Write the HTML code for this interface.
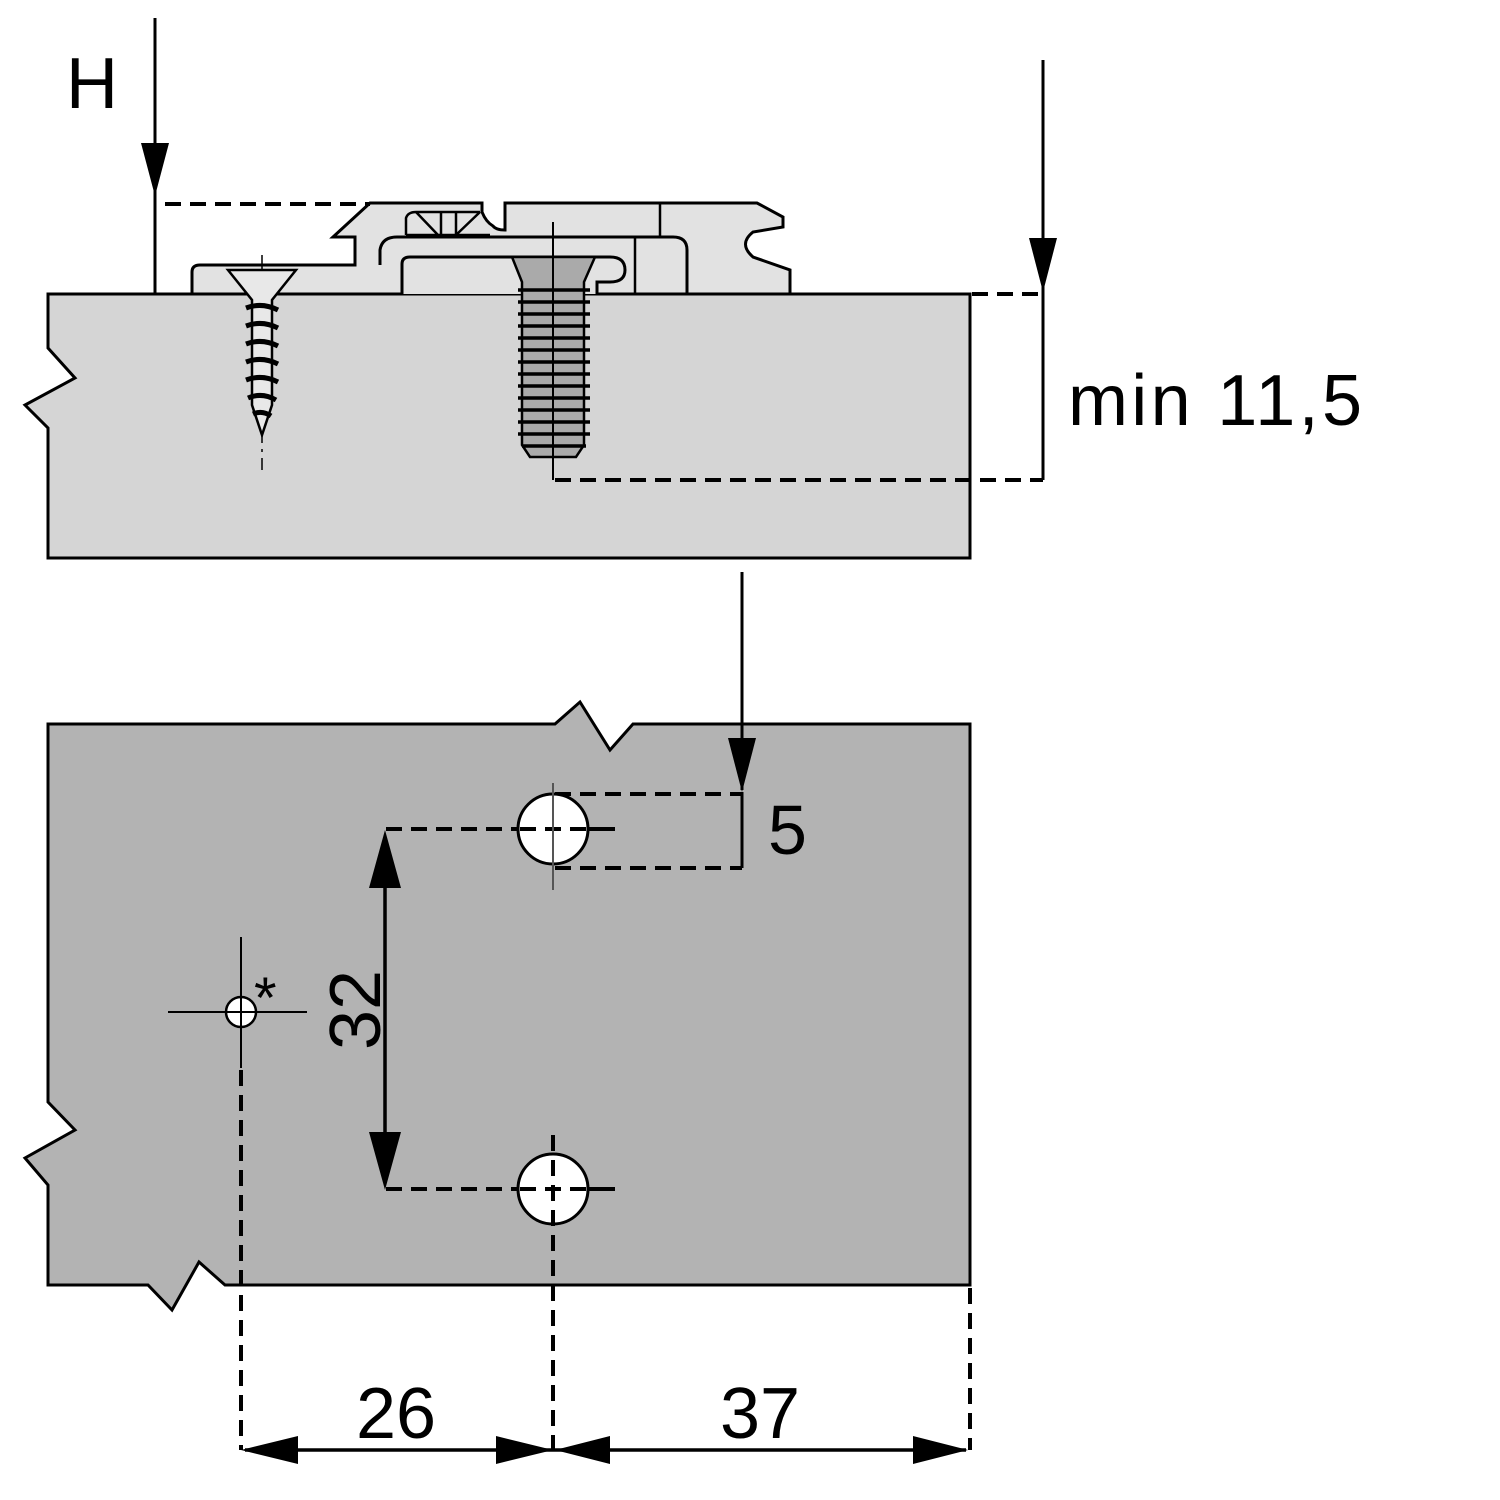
<!DOCTYPE html>
<html><head><meta charset="utf-8"><style>html,body{margin:0;padding:0;background:#fff}svg{display:block}</style></head>
<body>
<svg width="1500" height="1500" viewBox="0 0 1500 1500" xmlns="http://www.w3.org/2000/svg" font-family="Liberation Sans, sans-serif">
<!-- top panel -->
<path d="M48,294 H970 V558 H48 V428 L25,405 L75,378 L48,348 Z" fill="#d5d5d5" stroke="#000" stroke-width="3"/>
<!-- plate -->
<path d="M192,294 V272 Q192,265 200,265 H355 V237 H333 L370,203 H482 V212 Q486,222 493,226 Q496,230 505,230 V203 H757 L783,217 V227 L753,232 Q738,244 753,257 L790,270 V294 Z" fill="#e2e2e2" stroke="#000" stroke-width="3"/>
<path d="M380,265 V250 Q382,237 397,237 H673 Q687,237 687,250 V294" fill="none" stroke="#000" stroke-width="3"/>
<path d="M635,237 V294 M660,203 V237" fill="none" stroke="#000" stroke-width="2.5"/>
<path d="M402,294 V264 Q402,257 410,257 H610 Q625,257 625,270 Q625,282 610,282 H597 V294" fill="#e2e2e2" stroke="#000" stroke-width="3"/>
<path d="M406,235 V218 Q408,212 416,212 H480 M416,212 L438,235 M441,212 V235 M456,212 V235 M456,235 L480,212 M406,235 H490" fill="none" stroke="#000" stroke-width="2.5"/>
<!-- left screw -->
<line x1="262" y1="255" x2="262" y2="470" stroke="#000" stroke-width="1.5" stroke-dasharray="14,6,3,6"/>
<path d="M228,270 H296 L272,300 V405 L262,435 L252,405 V300 Z" fill="#e8e8e8" stroke="#000" stroke-width="2.5"/>
<g fill="none" stroke="#000" stroke-width="5">
<path d="M246,308 Q262,302 278,310 M246,326 Q262,320 278,328 M246,344 Q262,338 278,346 M246,362 Q262,356 278,364 M246,380 Q262,374 278,382 M248,398 Q262,392 276,400 M253,414 Q262,410 271,416"/>
</g>
<!-- machine screw -->
<path d="M512,257 H595 L584,282 V445 L576,457 H530 L522,445 V282 Z" fill="#aaa" stroke="#000" stroke-width="2.5"/>
<g fill="none" stroke="#000" stroke-width="3.5">
<path d="M518,290 H590 M518,302 H590 M518,314 H590 M518,326 H590 M518,338 H590 M518,350 H590 M518,362 H590 M518,374 H590 M518,386 H590 M518,398 H590 M518,410 H590 M518,422 H590 M518,434 H590 M522,446 H586"/>
</g>
<line x1="553" y1="222" x2="553" y2="480" stroke="#000" stroke-width="2"/>
<!-- H dimension -->
<line x1="155" y1="18" x2="155" y2="294" stroke="#000" stroke-width="3"/>
<path d="M141,143 H169 L155,196 Z" fill="#000"/>
<line x1="165" y1="204" x2="370" y2="204" stroke="#000" stroke-width="4" stroke-dasharray="16,9"/>
<text x="66" y="108" font-size="72">H</text>
<!-- min 11,5 -->
<line x1="1043" y1="60" x2="1043" y2="480" stroke="#000" stroke-width="3"/>
<path d="M1029,238 H1057 L1043,292 Z" fill="#000"/>
<line x1="972" y1="294" x2="1043" y2="294" stroke="#000" stroke-width="4" stroke-dasharray="16,9"/>
<line x1="555" y1="480" x2="1043" y2="480" stroke="#000" stroke-width="4" stroke-dasharray="16,9"/>
<text x="1068" y="425" font-size="72" textLength="294">min 11,5</text>
<!-- bottom panel -->
<path d="M48,724 H555 L580,702 L610,750 L633,724 H970 V1285 H225 L199,1262 L172,1310 L148,1285 H48 V1185 L25,1158 L75,1130 L48,1102 Z" fill="#b3b3b3" stroke="#000" stroke-width="3"/>
<!-- arrow to 5 -->
<line x1="742" y1="572" x2="742" y2="790" stroke="#000" stroke-width="3"/>
<path d="M728,738 H756 L742,792 Z" fill="#000"/>
<g stroke="#000" stroke-width="4" stroke-dasharray="16,9" fill="none">
<line x1="555" y1="794" x2="742" y2="794"/>
<line x1="555" y1="868" x2="742" y2="868"/>
<line x1="386" y1="829" x2="615" y2="829"/>
<line x1="386" y1="1189" x2="615" y2="1189"/>
<line x1="241" y1="1070" x2="241" y2="1450"/>
<line x1="553" y1="1135" x2="553" y2="1450"/>
<line x1="970" y1="1288" x2="970" y2="1450"/>
</g>
<line x1="742" y1="792" x2="742" y2="868" stroke="#000" stroke-width="3"/>
<text x="768" y="854" font-size="70">5</text>
<!-- holes -->
<circle cx="553" cy="829" r="35" fill="#fff" stroke="#000" stroke-width="3"/>
<circle cx="553" cy="1189" r="35" fill="#fff" stroke="#000" stroke-width="3"/>
<line x1="520" y1="829" x2="615" y2="829" stroke="#000" stroke-width="4" stroke-dasharray="16,9"/>
<line x1="520" y1="1189" x2="615" y2="1189" stroke="#000" stroke-width="4" stroke-dasharray="16,9"/>
<line x1="553" y1="783" x2="553" y2="890" stroke="#555" stroke-width="2"/>
<line x1="553" y1="1135" x2="553" y2="1230" stroke="#000" stroke-width="4" stroke-dasharray="16,9"/>
<!-- 32 dim -->
<line x1="385" y1="840" x2="385" y2="1180" stroke="#000" stroke-width="3.5"/>
<path d="M369,888 H401 L385,830 Z M369,1132 H401 L385,1190 Z" fill="#000"/>
<text transform="translate(380,1010) rotate(-90)" font-size="72" text-anchor="middle">32</text>
<!-- small hole -->
<circle cx="241" cy="1012" r="15" fill="#fff" stroke="#000" stroke-width="2.5"/>
<line x1="241" y1="937" x2="241" y2="1068" stroke="#000" stroke-width="2"/>
<line x1="168" y1="1012" x2="307" y2="1012" stroke="#000" stroke-width="2"/>
<text x="254" y="1018" font-size="58">*</text>
<!-- bottom dims -->
<line x1="245" y1="1450" x2="966" y2="1450" stroke="#000" stroke-width="3.5"/>
<path d="M241,1450 L298,1436 V1464 Z M553,1450 L496,1436 V1464 Z M555,1450 L610,1436 V1464 Z M968,1450 L913,1436 V1464 Z" fill="#000"/>
<text x="396" y="1438" font-size="72" text-anchor="middle">26</text>
<text x="760" y="1438" font-size="72" text-anchor="middle">37</text>
</svg>
</body></html>
